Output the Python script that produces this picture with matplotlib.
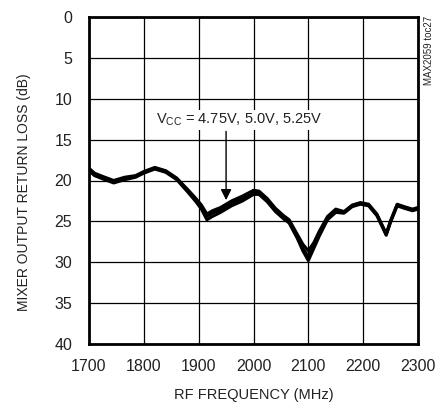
import matplotlib
matplotlib.use('Agg')
import matplotlib.pyplot as plt
from matplotlib import font_manager

# condensed font if available
names = set(f.name for f in font_manager.fontManager.ttflist)
narrow = 'Liberation Sans Narrow' if 'Liberation Sans Narrow' in names else 'Liberation Sans'
plt.rcParams['font.family'] = [narrow, 'DejaVu Sans']
plt.rcParams['mathtext.fontset'] = 'custom'
plt.rcParams['mathtext.rm'] = narrow
plt.rcParams['mathtext.it'] = narrow

freq = [1700, 1710, 1725, 1745, 1765, 1785, 1800, 1820, 1840, 1860, 1880, 1895,
        1905, 1915, 1925, 1940, 1960, 1980, 2000, 2010, 2025, 2040, 2055, 2065,
        2080, 2090, 2100, 2110, 2120, 2135, 2150, 2165, 2180, 2195, 2210, 2225,
        2235, 2242, 2250, 2262, 2275, 2290, 2300]

rl_475 = [18.8, 19.4, 19.8, 20.3, 19.9, 19.6, 19.1, 18.6, 19.0, 19.9, 21.4, 22.6,
          23.5, 24.8, 24.4, 23.9, 23.1, 22.5, 21.7, 21.7, 22.6, 23.8, 24.7, 25.2,
          27.1, 28.6, 29.8, 28.3, 26.8, 24.8, 23.9, 24.0, 23.2, 22.9, 23.1, 24.3,
          25.7, 26.7, 25.1, 23.1, 23.4, 23.7, 23.5]
rl_500 = [18.6, 19.2, 19.6, 20.2, 19.8, 19.5, 19.0, 18.5, 18.9, 19.8, 21.3, 22.4,
          23.2, 24.4, 24.0, 23.6, 22.8, 22.2, 21.4, 21.5, 22.4, 23.6, 24.5, 25.0,
          26.9, 28.3, 29.3, 28.0, 26.5, 24.6, 23.7, 23.9, 23.1, 22.8, 23.0, 24.2,
          25.6, 26.6, 25.0, 23.0, 23.3, 23.6, 23.4]
rl_525 = [18.5, 19.1, 19.5, 20.0, 19.6, 19.4, 18.9, 18.4, 18.8, 19.7, 21.1, 22.2,
          23.0, 24.1, 23.7, 23.3, 22.5, 21.9, 21.2, 21.3, 22.2, 23.4, 24.3, 24.8,
          26.6, 27.8, 28.6, 27.6, 26.2, 24.4, 23.5, 23.8, 23.0, 22.7, 22.9, 24.1,
          25.5, 26.5, 24.9, 22.9, 23.2, 23.5, 23.3]

xticks = [1700, 1800, 1900, 2000, 2100, 2200, 2300]
yticks = [0, 5, 10, 15, 20, 25, 30, 35, 40]

fig = plt.figure(figsize=(4.48, 4.05), dpi=100)
ax = fig.add_axes([89/448, 61/405, 329/448, 327/405])

for rl in (rl_475, rl_500, rl_525):
    ax.plot(freq, rl, color='black', lw=2.2, solid_joinstyle='round')

ax.set_xlim(1700, 2300)
ax.set_ylim(40, 0)
ax.set_xticks(xticks)
ax.set_yticks(yticks)
ax.tick_params(length=0, labelsize=11.5, colors='#222222')
ax.tick_params(axis='y', pad=12)
ax.tick_params(axis='x', pad=11)
ax.grid(True, color='black', lw=0.9)
ax.set_axisbelow(True)
for s in ax.spines.values():
    s.set_linewidth(2.0)

ax.set_xlabel('RF FREQUENCY (MHz)', fontsize=10.5, labelpad=10, color='#222222')
ax.set_ylabel('MIXER OUTPUT RETURN LOSS (dB)', fontsize=10, color='#222222')
ax.yaxis.set_label_coords(-0.175, 0.465)

ax.text(1822, 12.6, r'V$_{\mathrm{CC}}$ = 4.75V, 5.0V, 5.25V', fontsize=10.5,
        va='center', ha='left', color='#222222',
        bbox=dict(facecolor='white', edgecolor='none', pad=1.5))
ax.annotate('', xy=(1950, 22.4), xytext=(1950, 14.0),
            arrowprops=dict(arrowstyle='-|>', color='black', lw=1.0,
                            mutation_scale=16, shrinkA=0, shrinkB=0))

fig.text(429/448, 1 - 50/405, 'MAX2059 toc27', rotation=90, fontsize=7,
         ha='center', va='center', color='#222222')

fig.savefig('out.png', dpi=100)
